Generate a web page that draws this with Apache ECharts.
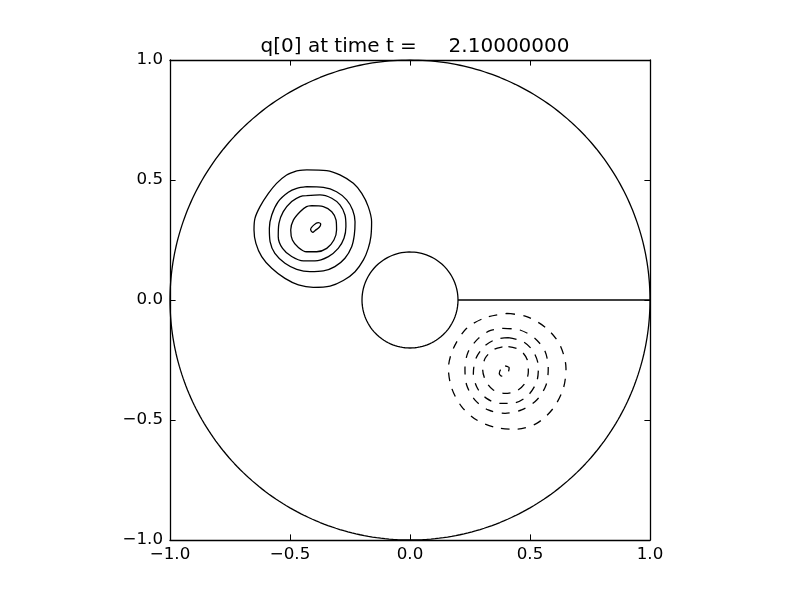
<!DOCTYPE html>
<html>
<head>
<meta charset="utf-8">
<script src="https://cdn.jsdelivr.net/npm/echarts@6/dist/echarts.min.js"></script>
<style>
html,body{margin:0;padding:0;background:#fff;}
#c{width:800px;height:600px;}
</style>
</head>
<body>
<div id="c"></div>
<script>
// ---- data ----
const titleText = "q[0] at time t =     2.10000000";
const tickValues = [-1.0, -0.5, 0.0, 0.5, 1.0];

// boundary geometry: outer circle r=1, inner circle r=0.2, slit along y=0
const boundaryRadii = [1.0, 0.2];
const slit = [[0.2, 0.0], [1.0, 0.0]];

// positive contours (solid)
const posContour1 = [[-0.472,0.538],[-0.430,0.542],[-0.347,0.539],[-0.292,0.521],[-0.236,0.486],[-0.201,0.444],[-0.174,0.389],[-0.160,0.326],[-0.163,0.264],[-0.174,0.215],[-0.194,0.167],[-0.229,0.118],[-0.278,0.081],[-0.333,0.058],[-0.403,0.053],[-0.465,0.063],[-0.521,0.090],[-0.576,0.132],[-0.618,0.181],[-0.642,0.236],[-0.650,0.292],[-0.646,0.340],[-0.625,0.389],[-0.590,0.444],[-0.556,0.486],[-0.514,0.521]];
const posContour2 = [[-0.431,0.472],[-0.361,0.469],[-0.306,0.451],[-0.264,0.417],[-0.239,0.375],[-0.229,0.326],[-0.232,0.271],[-0.243,0.222],[-0.271,0.174],[-0.313,0.139],[-0.361,0.121],[-0.417,0.118],[-0.472,0.128],[-0.521,0.153],[-0.563,0.194],[-0.583,0.243],[-0.586,0.299],[-0.576,0.354],[-0.549,0.410],[-0.507,0.449],[-0.472,0.465]];
const posContour3 = [[-0.431,0.435],[-0.375,0.438],[-0.326,0.424],[-0.292,0.396],[-0.271,0.354],[-0.267,0.306],[-0.275,0.257],[-0.299,0.215],[-0.340,0.181],[-0.396,0.163],[-0.444,0.163],[-0.493,0.181],[-0.531,0.215],[-0.549,0.264],[-0.546,0.319],[-0.528,0.368],[-0.493,0.410],[-0.458,0.431]];
const posContour4 = [[-0.410,0.393],[-0.361,0.389],[-0.326,0.368],[-0.308,0.333],[-0.306,0.292],[-0.317,0.250],[-0.347,0.215],[-0.389,0.201],[-0.431,0.201],[-0.465,0.219],[-0.490,0.250],[-0.497,0.292],[-0.486,0.333],[-0.458,0.368],[-0.431,0.389]];
const posContour5 = [[-0.410,0.285],[-0.414,0.294],[-0.400,0.313],[-0.382,0.322],[-0.372,0.317],[-0.378,0.303],[-0.396,0.289],[-0.405,0.282]];

// negative contours (dashed)
const negContour1 = [[0.403,-0.056],[0.486,-0.069],[0.569,-0.118],[0.625,-0.188],[0.650,-0.285],[0.639,-0.368],[0.597,-0.451],[0.528,-0.514],[0.444,-0.538],[0.361,-0.532],[0.278,-0.500],[0.215,-0.444],[0.174,-0.368],[0.160,-0.285],[0.181,-0.201],[0.236,-0.118],[0.313,-0.074]];
const negContour2 = [[0.389,-0.118],[0.458,-0.125],[0.521,-0.160],[0.563,-0.215],[0.576,-0.285],[0.567,-0.354],[0.528,-0.417],[0.465,-0.458],[0.396,-0.472],[0.326,-0.458],[0.271,-0.417],[0.236,-0.354],[0.229,-0.285],[0.243,-0.215],[0.285,-0.160],[0.333,-0.128]];
const negContour3 = [[0.410,-0.157],[0.472,-0.174],[0.514,-0.215],[0.535,-0.278],[0.528,-0.340],[0.493,-0.396],[0.438,-0.428],[0.375,-0.431],[0.319,-0.410],[0.281,-0.368],[0.264,-0.306],[0.275,-0.243],[0.313,-0.190],[0.361,-0.163]];
const negContour4 = [[0.410,-0.194],[0.458,-0.208],[0.489,-0.250],[0.493,-0.299],[0.479,-0.347],[0.444,-0.379],[0.396,-0.389],[0.347,-0.375],[0.317,-0.340],[0.303,-0.292],[0.313,-0.243],[0.347,-0.208],[0.382,-0.196]];
const negContour5 = [[0.396,-0.274],[0.413,-0.282],[0.410,-0.299],[0.400,-0.313],[0.382,-0.317],[0.372,-0.306],[0.379,-0.288]];

const positiveContours = [posContour1, posContour2, posContour3, posContour4, posContour5];
const negativeContours = [negContour1, negContour2, negContour3, negContour4, negContour5];

// ---- build ----
function closed(arr){ return arr.concat([arr[0]]); }
function circle(r){
  const pts = [];
  const n = 360;
  for (let i = 0; i <= n; i++) {
    const a = 2*Math.PI*i/n;
    pts.push([r*Math.cos(a), r*Math.sin(a)]);
  }
  return pts;
}
function fmt(v){
  return v.toFixed(1).replace('-', '\u2212');
}

const FONT = 'DejaVu Sans';
const LW = 1.3;
const series = [];
boundaryRadii.forEach(r => series.push({
  type:'line', data: circle(r), showSymbol:false, smooth:false,
  lineStyle:{color:'#000', width:LW}, silent:true
}));
series.push({type:'line', data: slit, showSymbol:false, lineStyle:{color:'#000', width:LW}, silent:true});
positiveContours.forEach(c => series.push({
  type:'line', data: closed(c), showSymbol:false, smooth:0.3,
  lineStyle:{color:'#000', width:LW}, silent:true
}));
negativeContours.forEach(c => series.push({
  type:'line', data: closed(c), showSymbol:false, smooth:0.3,
  lineStyle:{color:'#000', width:LW, type:[8.3,8.3]}, silent:true
}));

function axisBase(extra){
  return Object.assign({
    type:'value', min:-1, max:1, interval:0.5,
    axisLine:{show:true, onZero:false, lineStyle:{color:'#000', width:1.3}},
    axisTick:{show:true, inside:true, length:5.6, lineStyle:{color:'#000', width:1}},
    splitLine:{show:false}
  }, extra);
}

const chart = echarts.init(document.getElementById('c'), null, {renderer:'canvas'});
chart.setOption({
  animation:false,
  backgroundColor:'#fff',
  title:{
    text: titleText, left:410, textAlign:'center', top:32,
    textStyle:{fontFamily:FONT, fontSize:20, fontWeight:'normal', color:'#000'}
  },
  grid:{left:170, right:150, top:60, bottom:60, containLabel:false},
  xAxis:[
    axisBase({position:'bottom', axisLabel:{show:true, color:'#000', fontFamily:FONT, fontSize:16.7, margin:6, formatter: fmt, customValues: tickValues}}),
    axisBase({position:'top', axisLabel:{show:false}})
  ],
  yAxis:[
    axisBase({position:'left', axisLabel:{show:true, color:'#000', fontFamily:FONT, fontSize:16.7, margin:7, formatter: fmt, customValues: tickValues}}),
    axisBase({position:'right', axisLabel:{show:false}})
  ],
  series: series
});
</script>
</body>
</html>
